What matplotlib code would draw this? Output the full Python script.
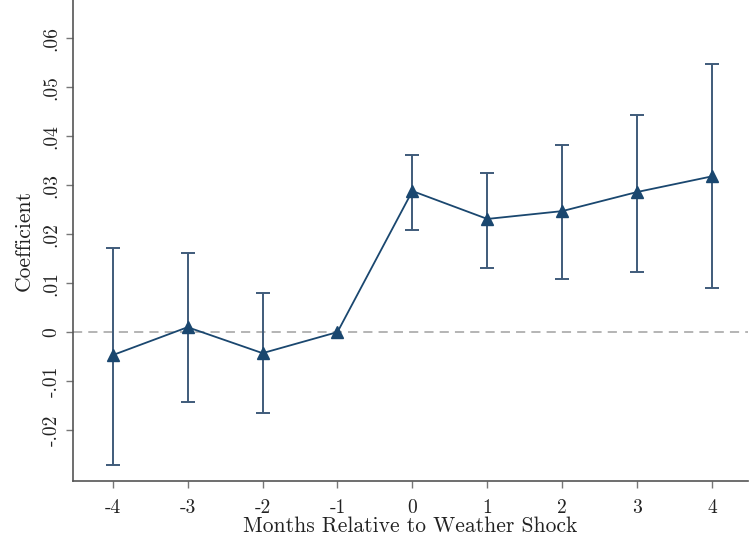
import matplotlib
matplotlib.use("Agg")
import matplotlib.pyplot as plt
import numpy as np

months = [-4, -3, -2, -1, 0, 1, 2, 3, 4]
coef = [-0.0047, 0.0010, -0.0043, 0.0000, 0.0288, 0.0231, 0.0247, 0.0286, 0.0318]
ci_low = [-0.0271, -0.0143, -0.0165, 0.0000, 0.0208, 0.0130, 0.0108, 0.0122, 0.0090]
ci_high = [0.0171, 0.0161, 0.0080, 0.0000, 0.0361, 0.0324, 0.0382, 0.0443, 0.0547]
yticks = [-0.02, -0.01, 0, 0.01, 0.02, 0.03, 0.04, 0.05, 0.06]
ytick_labels = ["-.02", "-.01", "0", ".01", ".02", ".03", ".04", ".05", ".06"]
xtick_labels = ["-4", "-3", "-2", "-1", "0", "1", "2", "3", "4"]

plt.rcParams['font.family'] = ['cmr10', 'DejaVu Serif']
plt.rcParams['axes.unicode_minus'] = False

fig = plt.figure(figsize=(7.51, 5.41), dpi=100)
ax = fig.add_axes([73/751, 1 - 481/541, (748-73)/751, 481/541])

navy = "#1a476f"
errc = "#3f5b7a"
x = np.array(months)
c = np.array(coef)
lo = np.array(ci_low)
hi = np.array(ci_high)
mask = hi != lo
ax.axhline(0, color="#a0a0a0", lw=1.1, ls=(0, (6, 4)), zorder=1)
ax.errorbar(x[mask], c[mask], yerr=[c[mask] - lo[mask], hi[mask] - c[mask]],
            fmt="none", ecolor=errc, elinewidth=1.4, capsize=5, capthick=1.4, zorder=2)
ax.plot(x, c, color=navy, lw=1.3, marker="^", ms=8, mfc=navy, mec=navy, zorder=3)

ax.set_xlim(-4.53, 4.48)
ax.set_ylim(-0.0304, 0.0678)
ax.set_xticks(months)
ax.set_xticklabels(xtick_labels)
ax.set_yticks(yticks)
ax.set_yticklabels(ytick_labels, rotation=90, va="center")

for s in ["top", "right"]:
    ax.spines[s].set_visible(False)
for s in ["left", "bottom"]:
    ax.spines[s].set_color("#555555")
    ax.spines[s].set_linewidth(1.2)
ax.tick_params(axis="both", direction="out", length=5, width=1, color="#777777",
               labelsize=14, labelcolor="#222222")
ax.tick_params(axis="x", pad=8)
ax.tick_params(axis="y", pad=4)

ax.set_xlabel("Months Relative to Weather Shock", fontsize=15.5, color="#222222", labelpad=0)
ax.set_ylabel("Coefficient", fontsize=15.5, color="#222222", labelpad=6)

fig.savefig("out.png", dpi=100)
